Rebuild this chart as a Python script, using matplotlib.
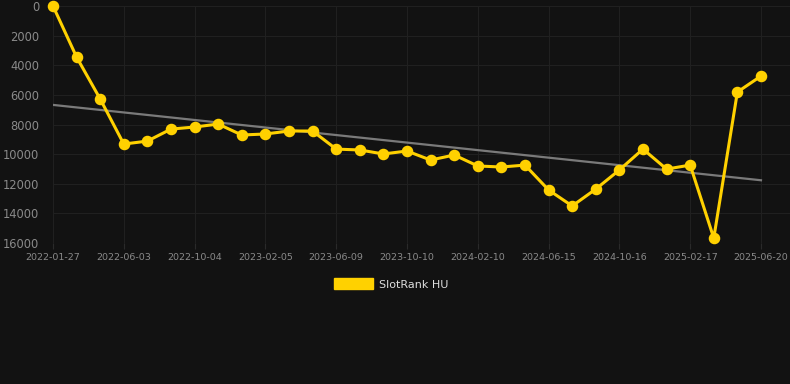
import numpy as np
import matplotlib
matplotlib.use("Agg")
import matplotlib.pyplot as plt
from matplotlib.patches import Patch

# rank values per snapshot (evenly spaced)
ranks = [0, 3450, 6280, 9320, 9120, 8310, 8170, 7970, 8710, 8640,
         8440, 8440, 9660, 9720, 9990, 9790, 10400, 10060, 10800, 10870,
         10740, 12420, 13500, 12360, 11070, 9660, 11010, 10740, 15670, 5810,
         4730]
tick_labels = ["2022-01-27", "2022-06-03", "2022-10-04", "2023-02-05",
               "2023-06-09", "2023-10-10", "2024-02-10", "2024-06-15",
               "2024-10-16", "2025-02-17", "2025-06-20"]
y_ticks = [0, 2000, 4000, 6000, 8000, 10000, 12000, 14000, 16000]
series_name = "SlotRank HU"

bg = "#121212"
gold = "#FFD100"

x = np.arange(len(ranks))
coef = np.polyfit(x, ranks, 1)
trend = np.polyval(coef, x)

fig = plt.figure(figsize=(7.9, 3.84), dpi=100)
fig.patch.set_facecolor(bg)
ax = fig.add_axes([53 / 790, 141 / 384, 737 / 790, 237 / 384])
ax.set_facecolor(bg)

ax.plot(x, trend, color="#7a7a7a", linewidth=1.6, zorder=2)
ax.plot(x, ranks, color=gold, linewidth=2.2, marker="o", markersize=7.3,
        zorder=3, clip_on=False)

ax.set_ylim(16000, 0)
ax.set_xlim(0, 31.23)
ax.set_yticks(y_ticks)
ax.set_yticklabels([str(v) for v in y_ticks])
ax.set_xticks(x[::3])
ax.set_xticklabels(tick_labels)

ax.grid(color="#202020", linewidth=0.8)
ax.tick_params(axis="y", length=0, pad=10, labelsize=8.3, colors="#8a8a8a")
ax.tick_params(axis="x", length=4, pad=3, labelsize=6.8, colors="#8a8a8a",
               color="#2a2a2a")
for spine in ax.spines.values():
    spine.set_visible(False)

handle = Patch(facecolor=gold, edgecolor=gold)
leg = fig.legend([handle], [series_name], loc="center", bbox_to_anchor=(391 / 790, 1 - 284 / 384),
                 frameon=False, fontsize=8, handlelength=3.5, handleheight=1.1,
                 handletextpad=0.5, labelcolor="#dddddd")

fig.savefig("out.png", dpi=100, facecolor=bg)
